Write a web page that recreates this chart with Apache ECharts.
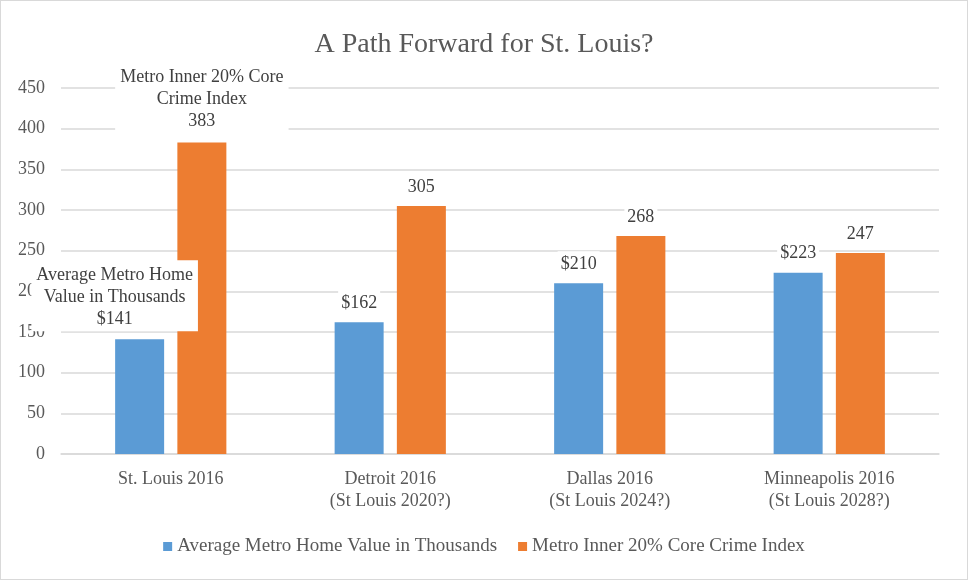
<!DOCTYPE html>
<html>
<head>
<meta charset="utf-8">
<script src="https://cdn.jsdelivr.net/npm/echarts@6/dist/echarts.min.js"></script>
<style>
  html, body { margin: 0; padding: 0; background: #fff; }
  .chart { width: 968px; height: 580px; box-sizing: border-box; border: 1px solid #d9d9d9; }
</style>
</head>
<body>
<div class="chart"></div>
<script>
var categories = [
  "St. Louis 2016",
  "Detroit 2016\n(St Louis 2020?)",
  "Dallas 2016\n(St Louis 2024?)",
  "Minneapolis 2016\n(St Louis 2028?)"
];
var seriesNames = ["Average Metro Home Value in Thousands", "Metro Inner 20% Core Crime Index"];
// names shown inside the first bar's label
var labelNames = ["Average Metro Home\nValue in Thousands", "Metro Inner 20% Core\nCrime Index"];
var homeValues = [141, 162, 210, 223];
var crimeIndex = [383, 305, 268, 247];

(function () {
  var myChart = echarts.init(document.querySelector(".chart"));
  var font = "Liberation Serif";

  // 第一组柱子的标签带系列名
  function makeData(values, idx, prefix) {
    return values.map(function (v, i) {
      if (i !== 0) return v;
      return {
        value: v,
        label: {
          formatter: labelNames[idx] + "\n" + prefix + v,
          offset: idx === 0 ? [-25, -2] : [0, 0],
          padding: idx === 0 ? [4, 5, 1, 5] : [4, 5, 4, 5]
        }
      };
    });
  }

  var baseLabel = {
    show: true,
    position: "top",
    distance: 6,
    color: "#404040",
    fontFamily: font,
    fontSize: 18,
    lineHeight: 22,
    backgroundColor: "#fff",
    padding: [2, 3]
  };

  var option = {
    textStyle: { fontFamily: font },
    title: {
      text: "A Path Forward for St. Louis?",
      left: "center",
      top: 25,
      textStyle: {
        color: "#595959",
        fontFamily: font,
        fontSize: 28,
        fontWeight: "normal"
      }
    },
    legend: {
      bottom: 18,
      left: "center",
      itemWidth: 9,
      itemHeight: 9,
      itemGap: 21,
      icon: "rect",
      data: seriesNames,
      textStyle: {
        color: "#595959",
        fontFamily: font,
        fontSize: 19
      }
    },
    grid: {
      left: 60,
      right: 28,
      top: 87,
      bottom: 125
    },
    xAxis: {
      type: "category",
      data: categories,
      axisTick: { show: false },
      axisLine: { lineStyle: { color: "#d9d9d9", width: 1.5 } },
      axisLabel: {
        color: "#595959",
        fontFamily: font,
        fontSize: 18,
        lineHeight: 22,
        margin: 14
      }
    },
    yAxis: {
      type: "value",
      min: 0,
      max: 450,
      interval: 50,
      axisLine: { show: false },
      axisTick: { show: false },
      axisLabel: {
        color: "#595959",
        fontFamily: font,
        fontSize: 18,
        margin: 16
      },
      splitLine: { lineStyle: { color: "#d9d9d9", width: 1.5 } }
    },
    series: [
      {
        name: seriesNames[0],
        type: "bar",
        barWidth: 49,
        barGap: "27%",
        itemStyle: { color: "#5b9bd5" },
        label: Object.assign({}, baseLabel, { formatter: "${c}" }),
        data: makeData(homeValues, 0, "$")
      },
      {
        name: seriesNames[1],
        type: "bar",
        barWidth: 49,
        barGap: "27%",
        itemStyle: { color: "#ed7d31" },
        label: Object.assign({}, baseLabel, { formatter: "{c}" }),
        data: makeData(crimeIndex, 1, "")
      }
    ]
  };

  myChart.setOption(option);
  window.addEventListener("resize", function () {
    myChart.resize();
  });
})();
</script>
</body>
</html>
